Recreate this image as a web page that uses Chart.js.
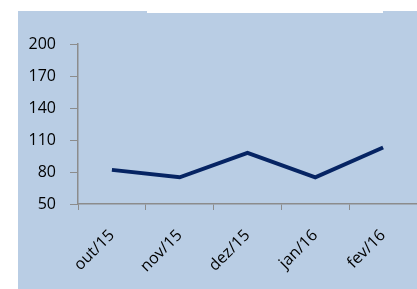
<!DOCTYPE html>
<html>
<head>
<meta charset="utf-8">
<script src="https://cdn.jsdelivr.net/npm/chart.js@4.4.0/dist/chart.umd.min.js"></script>
<style>
  html, body { margin: 0; padding: 0; background: #ffffff; }
  #wrap { width: 417px; height: 289px; position: relative; }
</style>
</head>
<body>
<div id="wrap"><canvas id="grafico" width="417" height="289"></canvas></div>
<script>
// Dados do gráfico
const meses = ['out/15', 'nov/15', 'dez/15', 'jan/16', 'fev/16'];
const valores = [82, 75, 98, 75, 103];
const eixoY = [50, 80, 110, 140, 170, 200];

// Fundo azul e caixa branca do título
const fundo = {
    id: 'fundo',
    beforeDraw(chart) {
        const c = chart.ctx;
        c.save();
        c.fillStyle = '#b9cde4';
        c.fillRect(18, 11, 399, 278);
        c.fillStyle = '#ffffff';
        c.fillRect(147, 0, 236, 13);
        c.restore();
    }
};

const ctx = document.getElementById('grafico').getContext('2d');
new Chart(ctx, {
    type: 'line',
    data: {
        labels: meses,
        datasets: [{
            data: valores,
            borderColor: '#062463',
            borderWidth: 4,
            pointRadius: 0,
            tension: 0,
            fill: false
        }]
    },
    options: {
        responsive: false,
        animation: false,
        layout: { padding: { top: 44, left: 0, right: 0, bottom: 0 } },
        plugins: { legend: { display: false }, tooltip: { enabled: false } },
        scales: {
            x: {
                offset: true,
                grid: { offset: true, drawOnChartArea: false, drawTicks: true, tickLength: 6, color: '#8c8c8c' },
                border: { color: '#8c8c8c', width: 1.5 },
                ticks: {
                    color: '#000',
                    font: { family: 'Open Sans', size: 16 },
                    maxRotation: 45, minRotation: 45,
                    padding: 16
                },
                afterFit: s => { s.height = 85; }
            },
            y: {
                min: 50, max: 200,
                afterBuildTicks: s => { s.ticks = eixoY.map(v => ({ value: v })); },
                grid: { drawOnChartArea: false, drawTicks: true, tickLength: 8, color: '#8c8c8c' },
                border: { color: '#8c8c8c', width: 1.5 },
                ticks: {
                    color: '#000',
                    font: { family: 'Open Sans', size: 16 },
                    padding: 14
                },
                afterFit: s => { s.width = 78; }
            }
        }
    },
    plugins: [fundo]
});
</script>
</body>
</html>
